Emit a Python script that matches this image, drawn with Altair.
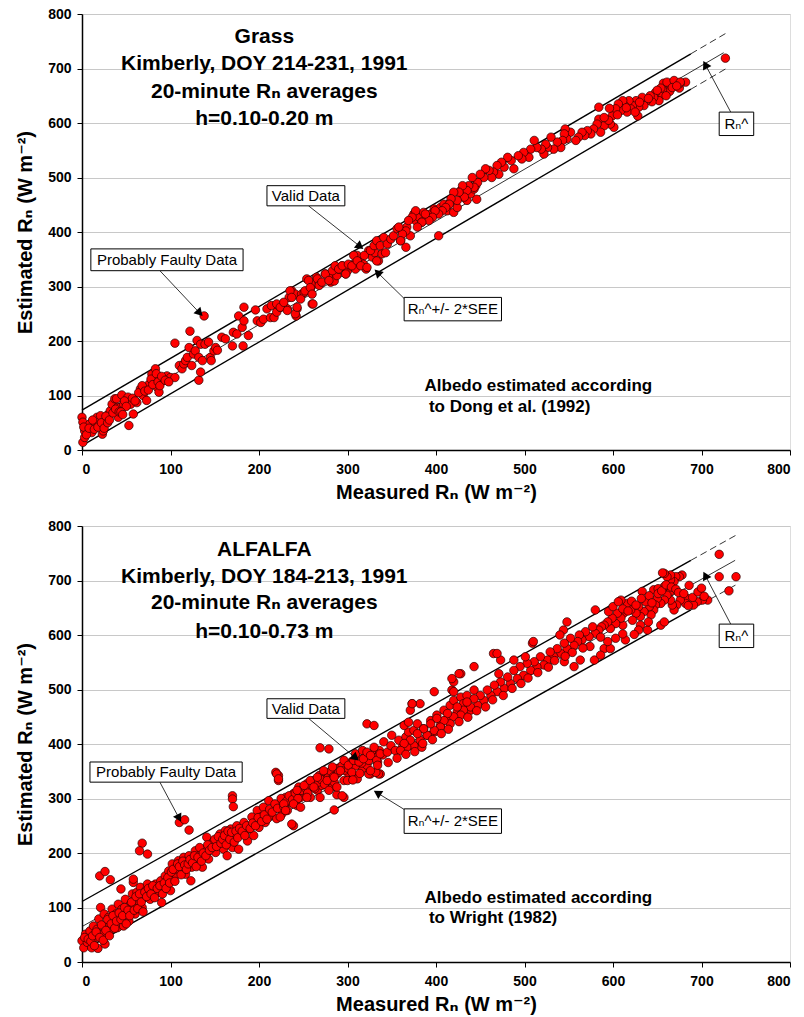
import math
import altair as alt
import pandas as pd

FONT = "Liberation Sans, Arial, DejaVu Sans, sans-serif"

# ---------------- Grass panel (top) ----------------
grass_points = [
    (0,60),(1,51),(3,35),(1,14),(3,23),(6,35),(9,48),(11,32),(15,45),(17,60),(19,51),(21,63),(23,29),(24,35),
    (26,48),(28,57),(30,66),(32,72),(34,84),(37,94),(39,94),(40,78),(41,60),(43,78),(45,101),(47,84),(52,97),
    (53,45),(55,84),(58,66),(62,87),(66,112),(69,100),(72,115),(73,91),(76,121),(79,139),(81,127),(83,149),
    (85,115),(87,106),(89,124),(92,130),(96,136),(100,133),(105,133),(105,196),(110,155),(113,149),(115,158),
    (117,164),(119,170),(121,188),(122,218),(124,155),(126,176),(128,182),(130,201),(132,170),(132,128),
    (134,194),(134,143),(136,164),(138,246),(139,194),(143,198),(145,170),(146,164),(149,182),(151,188),
    (153,183),(158,207),(162,204),(170,191),(171,216),(175,213),(177,246),(181,225),(182,191),(183,237),
    (183,262),(188,210),(196,257),(198,237),(202,234),(205,240),(209,259),(213,243),(214,265),(217,243),
    (220,253),(224,262),(228,265),(232,259),(234,280),(237,292),(241,286),(242,246),(243,259),(248,286),
    (251,289),(254,314),(258,295),(260,268),(262,304),(265,317),(268,308),(275,323),(279,320),(281,308),
    (285,310),(288,320),(290,332),(294,338),(298,323),(300,329),(303,338),(307,341),(309,332),(311,357),
    (315,344),(318,341),(321,332),(324,366),(328,354),(331,362),(335,347),(339,360),(343,362),
    (2,42),(5,28),(8,40),(12,55),(14,38),(18,42),(22,50),(25,40),(27,62),(29,50),(31,55),(35,68),(38,75),
    (42,70),(48,90),(50,80),(57,95),(60,90),(64,105),(68,118),(71,108),(75,110),(78,130),(80,120),(84,140),
    (86,125),(88,118),(90,135),(94,128),(98,125),(44,70),(46,65),
    (220,268),(224,262),(228,271),(232,256),(235,292),(237,280),(241,250),(243,262),(247,277),(252,292),
    (256,311),(258,298),(260,286),(261,268),(266,314),(268,302),(271,308),(275,323),(279,311),(283,329),
    (286,338),(290,332),(294,338),(298,323),(301,341),(305,338),(307,357),(311,347),(315,338),(319,357),
    (322,335),(326,366),(330,375),(333,384),(337,375),(333,347),(341,390),(345,378),(349,387),(352,393),
    (356,406),(360,384),(362,399),(366,372),(367,409),(371,393),(375,433),(377,421),(381,427),(384,418),
    (386,436),(390,424),(394,433),(398,442),(403,393),(405,445),(409,451),(413,439),(416,454),(420,436),
    (424,445),(428,476),(431,464),(435,458),(439,470),(443,479),(445,485),(446,460),
    (727,719),(682,675),(675,664),(676,673),(669,676),(665,667),(664,658),(657,673),(656,661),(654,650),
    (652,641),(648,656),(646,647),(644,639),(642,650),(638,641),(635,632),(633,647),(629,629),(628,613),
    (626,641),(622,632),(620,626),(618,641),(616,620),(613,632),(611,641),(609,623),(606,635),(603,626),
    (599,613),(596,627),(584,629),(584,607),(601,592),(597,598),(590,595),(586,583),(582,598),(578,589),
    (575,580),(571,586),(568,577),(565,583),(561,574),(558,568),(552,583),(548,571),(546,589),(545,580),
    (543,568),(541,555),(537,565),(533,552),(530,574),(526,555),(524,561),(522,543),(519,552),(514,555),
    (511,568),(507,552),(505,537),(499,546),(497,534),(493,540),(488,516),(485,531),(481,537),(477,519),
    (474,528),(471,506),(469,522),(465,510),(463,500),(460,513),(456,516),(454,500),(450,506),(447,491),
    (443,482),(441,500),(437,485),(435,476),(432,464),(430,485),(426,473),(424,458),(420,473),(417,461),
    (415,451),(411,445),(407,439),(403,433),(399,439),(396,427),(392,421),(388,433),(384,418),(379,409),
    (377,439),(373,427),(369,421),(366,402),(362,396),(358,409),(360,384),(661,675),(669,678),(676,675),
    (654,664),(650,660),(660,650),(667,665),(672,668),(640,645),(630,638),(625,620),(615,628),(605,615),
    (595,605),(590,610),
]
grass_fit_x = [0, 725]
grass_fit_y = [40, 729]
grass_band_x = [0, 688, 727]
grass_upper_y = [73, 727, 764]
grass_lower_y = [8, 662, 699]
grass_titles = ["Grass", "Kimberly, DOY 214-231, 1991", "20-minute Rₙ averages", "h=0.10-0.20 m"]
grass_title_y = [757, 709, 657, 608]
grass_albedo = ["Albedo estimated according", "to Dong et al. (1992)"]
grass_albedo_x = [387, 392]
grass_albedo_y = [118, 79]
# annotation boxes: label, x, x2, y, y2 ; arrow from (ax, ay) to (hx, hy)
grass_box_labels = ["Valid Data", "Probably Faulty Data", "Rₙ^+/- 2*SEE", "Rₙ^"]
grass_box_x = [209, 10, 364, 720]
grass_box_x2 = [297, 182, 474, 759]
grass_box_y = [448, 329, 237, 577]
grass_box_y2 = [485, 369, 280, 620]
grass_arrow_x = [256, 88, 364, 733]
grass_arrow_y = [448, 329, 278, 620]
grass_head_x = [313, 132, 335, 705]
grass_head_y = [375, 253, 324, 705]

# ---------------- Alfalfa panel (bottom) ----------------
alfalfa_points = [
    (20,158),(26,166),(32,151),(68,218),(65,204),(74,198),(44,134),(58,146),(58,152),(110,256),(116,261),
    (121,242),(170,305),(170,299),(171,285),(219,348),(222,342),(222,333),(239,250),(285,279),(296,302),(288,307),
    (0,39),(2,26),(4,51),(6,36),(9,57),(11,26),(13,66),(15,45),(17,60),(19,79),(18,25),(21,100),(23,51),(25,88),
    (26,33),(28,69),(30,82),(32,60),(34,97),(36,72),(38,88),(40,63),(41,106),(43,82),(45,97),(47,66),(49,115),
    (51,91),(53,75),(55,106),(57,125),(58,100),(60,88),(62,128),(64,112),(66,137),(68,100),(70,118),(72,131),
    (74,143),(77,115),(79,131),(83,143),(87,128),(89,149),(90,109),(92,137),(94,158),(96,146),(98,167),(100,131),
    (102,180),(104,152),(106,161),(107,174),(109,186),(111,167),(113,177),(115,192),(117,161),(119,186),(121,195),
    (123,149),(124,174),(126,189),(128,204),(130,183),(134,198),(136,174),(139,207),(141,229),(143,189),(145,213),
    (149,222),(151,201),(155,217),(156,235),(160,207),(162,241),(164,195),(166,226),(168,244),(170,210),(173,232),
    (175,250),(177,207),(179,238),(183,256),(187,222),(188,244),(192,266),(194,232),(198,278),(200,247),(202,266),
    (205,284),(207,256),(211,296),(213,269),(217,281),(220,263),(224,290),(226,272),(230,302),(232,278),(236,293),
    (239,309),(243,287),(245,321),(247,302),(251,312),(254,327),(258,302),(262,333),(266,315),(268,342),(271,324),
    (275,336),(279,345),(283,321),(285,330),(288,345),(292,358),(296,333),(300,348),(303,364),(307,342),(311,336),
    (317,355),(322,361),(326,345),(334,367),(337,345),(335,345),
    (3,45),(7,42),(10,38),(12,48),(14,30),(16,55),(20,45),(22,68),(24,40),(27,58),(29,78),(31,48),(33,70),(35,85),
    (37,62),(39,75),(42,90),(44,78),(46,85),(48,100),(50,70),(52,95),(54,85),(56,110),(59,95),(61,120),(63,98),
    (65,125),(67,110),(69,92),(71,128),(73,120),(75,135),(78,125),(80,140),(82,118),(85,135),(88,140),(91,125),
    (93,145),(95,135),(97,155),(99,145),(101,165),(103,170),(105,148),(108,180),(110,175),(112,160),(114,185),
    (116,178),(118,170),(120,180),(122,188),(125,182),(127,195),(129,175),(131,192),(133,210),(135,185),(137,200),
    (140,195),(142,215),(144,205),(147,210),(150,225),(152,212),(154,230),(157,218),(159,225),(161,232),(163,215),
    (165,240),(167,225),(169,238),(172,220),(174,240),(176,228),(178,245),(181,240),(184,232),(186,250),(190,245),
    (193,255),(196,250),(199,265),(203,258),(206,270),(209,262),(212,280),(215,275),(218,290),(221,282),(225,300),
    (228,285),(231,295),(234,305),(238,298),(241,310),(244,300),(248,315),(252,320),(255,310),(259,325),(263,318),
    (267,330),(270,335),(274,326),(278,338),(281,350),(284,340),(287,355),(290,348),(294,360),(297,352),(301,355),
    (305,368),(309,360),(313,372),(316,365),(320,378),(324,370),(328,382),(332,375),(336,388),(340,380),
    (220,345),(222,336),(228,290),(230,278),(224,266),(237,253),(239,290),(243,315),(247,284),(251,324),(254,302),
    (258,333),(262,321),(266,339),(269,302),(273,351),(277,333),(279,315),(283,358),(285,339),(288,321),(292,351),
    (294,305),(296,370),(300,333),(301,361),(305,348),(307,370),(309,382),(313,367),(317,388),(318,373),(322,385),
    (326,379),(330,394),(333,370),(324,345),(332,348),(337,382),(341,404),(345,385),(349,397),(350,416),(354,388),
    (358,407),(362,394),(366,413),(369,422),(371,397),(375,425),(379,437),(382,404),(386,428),(390,416),(394,443),
    (398,422),(401,453),(405,434),(409,462),(413,447),(416,471),(420,480),(424,459),(428,486),(431,474),(435,489),
    (439,462),(443,499),(364,434),(369,440),
    (269,393),(279,391),(322,437),(330,434),(373,474),(371,462),(418,499),(420,514),(428,529),(384,394),
    (720,748),(720,707),(739,707),(731,681),(707,664),(701,664),(695,661),(691,655),(684,667),(682,658),(676,664),
    (672,655),(669,646),(667,655),(665,664),(678,710),(675,707),(671,707),(669,698),(665,701),(665,710),(661,707),
    (658,713),(656,714),(665,680),(658,689),(661,673),(658,664),(654,658),(650,667),(648,655),(646,646),(643,637),
    (641,652),(637,661),(635,643),(631,634),(629,652),(626,640),(622,627),(620,646),(616,658),(612,640),(611,618),
    (609,631),(605,640),(603,621),(599,631),(597,612),(594,624),(590,618),(587,615),(584,609),(580,603),(577,615),
    (573,597),(569,606),(565,591),(562,600),(560,588),(556,581),(552,594),(548,575),(545,585),(541,566),(537,575),
    (533,560),(529,569),(526,554),(522,545),(518,560),(514,542),(511,551),(507,535),(503,548),(499,526),(495,542),
    (492,520),(488,535),(484,511),(481,523),(477,502),(473,514),(469,496),(466,508),(462,489),(458,499),(454,480),
    (450,489),(447,471),(443,483),(439,468),(435,477),(431,462),(428,453),(424,468),(420,450),(416,437),(413,456),
    (409,443),(405,431),(401,447),(398,425),(394,437),(390,416),(386,428),(382,407),(379,419),(375,397),(371,407),
    (367,394),(364,401),(360,388),
    (633,680),(646,683),(651,685),(609,664),(580,646),(595,643),(548,624),(544,609),(540,600),(509,585),(501,560),
    (510,588),(465,566),(471,529),(426,529),(418,520),(420,496),(398,496),(382,474),(373,474),(473,554),(488,554),
    (443,542),(469,566),(579,554),(590,575),(597,575),(586,563),(614,591),(631,618),(639,609),(654,618),(658,624),
    (629,609),(603,594),(556,542),(563,554),(545,551),
    (600,652),(606,661),(611,648),(617,644),(621,662),(626,655),(632,667),(641,672),(644,659),(651,676),(655,681),
    (660,692),(666,688),(671,684),(674,678),(680,676),(686,691),(690,669),(696,679),(700,686),(703,671),(685,654),
    (640,624),(624,601),(611,602),(594,588),(586,596),(574,579),(566,576),(554,568),(546,561),(534,553),(527,541),
    (515,531),(504,521),(496,511),(486,502),(476,489),(464,481),(456,468),(446,461),(436,449),(426,441),(414,427),
    (406,419),(396,408),(385,401),(376,386),(366,381),(356,374),(346,366),(334,361),(326,351),(314,346),(306,334),
]
alfalfa_fit_x = [0, 738]
alfalfa_fit_y = [65, 737]
alfalfa_band_x = [0, 688, 740]
alfalfa_upper_y = [111, 737, 784]
alfalfa_lower_y = [20, 646, 693]
alfalfa_titles = ["ALFALFA", "Kimberly, DOY 184-213, 1991", "20-minute Rₙ averages", "h=0.10-0.73 m"]
alfalfa_title_y = [756, 707, 658, 606]
alfalfa_albedo = ["Albedo estimated according", "to Wright (1982)"]
alfalfa_albedo_x = [387, 392]
alfalfa_albedo_y = [118, 81]
alfalfa_box_labels = ["Valid Data", "Probably Faulty Data", "Rₙ^+/- 2*SEE", "Rₙ^"]
alfalfa_box_x = [209, 9, 364, 720]
alfalfa_box_x2 = [297, 181, 474, 759]
alfalfa_box_y = [447, 330, 236, 577]
alfalfa_box_y2 = [483, 367, 281, 620]
alfalfa_arrow_x = [256, 88, 364, 733]
alfalfa_arrow_y = [447, 330, 280, 620]
alfalfa_head_x = [308, 109, 335, 705]
alfalfa_head_y = [376, 266, 309, 707]

PANEL_W = 708
PANEL_H = 436
PX_X = PANEL_W / 800.0
PX_Y = PANEL_H / 800.0

xscale = alt.Scale(domain=[0, 800], nice=False, zero=False)
yscale = alt.Scale(domain=[0, 800], nice=False, zero=False)

x_axis = alt.Axis(values=list(range(0, 801, 100)), grid=False, domainColor="black", domainWidth=1.5,
                  tickColor="black", tickSize=5, tickWidth=1, labelFont=FONT, labelFontSize=14,
                  labelFontWeight="bold", labelColor="black", labelPadding=7, titleFont=FONT,
                  titleFontSize=20, titleFontWeight="bold", titleColor="black", titlePadding=6)
y_axis = alt.Axis(values=list(range(0, 801, 100)), grid=True, gridColor="#C8C8C8", gridWidth=1,
                  domainColor="black", domainWidth=1.5, tickColor="black", tickSize=5, tickWidth=1,
                  labelFont=FONT, labelFontSize=14, labelFontWeight="bold", labelColor="black",
                  labelPadding=6, titleFont=FONT, titleFontSize=20, titleFontWeight="bold",
                  titleColor="black", titlePadding=12)

XT = "Measured Rₙ (W m⁻²)"
YT = "Estimated Rₙ (W m⁻²)"


def X(f="x"):
    return alt.X(f"{f}:Q", scale=xscale, axis=x_axis, title=XT)


def Y(f="y"):
    return alt.Y(f"{f}:Q", scale=yscale, axis=y_axis, title=YT)


def panel(points, fit_x, fit_y, band_x, upper_y, lower_y, titles, title_y,
          albedo, albedo_x, albedo_y, labels, bx, bx2, by, by2, ax, ay, hx, hy):
    pts = pd.DataFrame(points, columns=["x", "y"])

    solid = pd.DataFrame({
        "x": band_x[:2] + band_x[:2],
        "y": upper_y[:2] + lower_y[:2],
        "seg": ["u", "u", "l", "l"],
    })
    dashed = pd.DataFrame({
        "x": band_x[1:] + band_x[1:],
        "y": upper_y[1:] + lower_y[1:],
        "seg": ["u", "u", "l", "l"],
    })
    fit = pd.DataFrame({"x": fit_x, "y": fit_y})

    l_solid = alt.Chart(solid).mark_line(color="black", strokeWidth=1.4).encode(
        x=X(), y=Y(), detail="seg:N")
    l_dash = alt.Chart(dashed).mark_line(color="black", strokeWidth=0.8, strokeDash=[7, 4]).encode(
        x=X(), y=Y(), detail="seg:N")
    l_fit = alt.Chart(fit).mark_line(color="black", strokeWidth=0.8).encode(x=X(), y=Y())

    dots = alt.Chart(pts).mark_circle(fill="#FF0000", stroke="#2a0000", strokeWidth=0.7,
                                      size=72, opacity=1).encode(x=X(), y=Y())

    tdf = pd.DataFrame({"x": [206] * len(titles), "y": title_y, "t": titles})
    ttl = alt.Chart(tdf).mark_text(font=FONT, fontSize=21, fontWeight="bold", color="black",
                                   align="center", baseline="middle").encode(x=X(), y=Y(), text="t:N")

    adf = pd.DataFrame({"x": albedo_x, "y": albedo_y, "t": albedo})
    alb = alt.Chart(adf).mark_text(font=FONT, fontSize=17, fontWeight="bold", color="black",
                                   align="left", baseline="middle").encode(x=X(), y=Y(), text="t:N")

    arr = pd.DataFrame({"x": ax, "y": ay, "x2": hx, "y2": hy})
    rules = alt.Chart(arr).mark_rule(color="black", strokeWidth=0.8).encode(
        x=X(), y=Y(), x2="x2:Q", y2="y2:Q")

    angs = []
    for x0, y0, x1, y1 in zip(ax, ay, hx, hy):
        dx = (x1 - x0) * PX_X
        dy = -(y1 - y0) * PX_Y
        angs.append(math.degrees(math.atan2(dx, -dy)) % 360)
    heads_df = pd.DataFrame({"x": hx, "y": hy, "ang": angs})
    heads = alt.Chart(heads_df).mark_point(shape="triangle", filled=True, color="black",
                                           size=90, opacity=1).encode(
        x=X(), y=Y(), angle=alt.Angle("ang:Q", scale=None))

    bdf = pd.DataFrame({"x": bx, "x2": bx2, "y": by, "y2": by2, "t": labels,
                        "cx": [(a + b) / 2 for a, b in zip(bx, bx2)],
                        "cy": [(a + b) / 2 for a, b in zip(by, by2)]})
    rects = alt.Chart(bdf).mark_rect(fill="white", stroke="black", strokeWidth=1).encode(
        x=X(), y=Y(), x2="x2:Q", y2="y2:Q")
    btxt = alt.Chart(bdf).mark_text(font=FONT, fontSize=15, color="black", align="center",
                                    baseline="middle").encode(x=X("cx"), y=Y("cy"), text="t:N")

    return alt.layer(l_solid, l_dash, l_fit, dots, ttl, alb, rules, heads, rects, btxt).properties(
        width=PANEL_W, height=PANEL_H)


top = panel(grass_points, grass_fit_x, grass_fit_y, grass_band_x, grass_upper_y, grass_lower_y,
            grass_titles, grass_title_y, grass_albedo, grass_albedo_x, grass_albedo_y,
            grass_box_labels, grass_box_x, grass_box_x2, grass_box_y, grass_box_y2,
            grass_arrow_x, grass_arrow_y, grass_head_x, grass_head_y)
bottom = panel(alfalfa_points, alfalfa_fit_x, alfalfa_fit_y, alfalfa_band_x, alfalfa_upper_y,
               alfalfa_lower_y, alfalfa_titles, alfalfa_title_y, alfalfa_albedo, alfalfa_albedo_x,
               alfalfa_albedo_y, alfalfa_box_labels, alfalfa_box_x, alfalfa_box_x2, alfalfa_box_y,
               alfalfa_box_y2, alfalfa_arrow_x, alfalfa_arrow_y, alfalfa_head_x, alfalfa_head_y)

chart = alt.vconcat(top, bottom, spacing=76, bounds="flush").properties(
    autosize=alt.AutoSizeParams(type="pad"),
    padding={"left": 15, "top": 6, "right": 0, "bottom": 5},
).configure_view(stroke="black", strokeWidth=1.5).configure(background="white")

chart.save("out.html", embed_options={"renderer": "svg", "actions": False})
